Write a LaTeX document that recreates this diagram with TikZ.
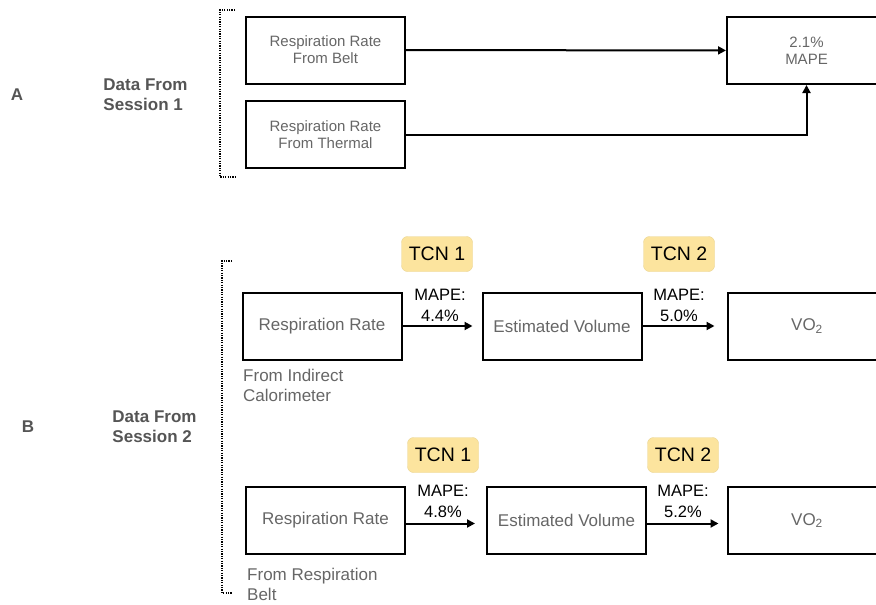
\documentclass[tikz,border=0pt]{standalone}
\usepackage{fontspec}
\setmainfont{Liberation Sans}
\usetikzlibrary{arrows.meta,positioning}

\definecolor{boxtext}{HTML}{666666}
\definecolor{headtext}{HTML}{555555}
\definecolor{tcnfill}{HTML}{FCE49E}
\definecolor{tcnline}{HTML}{E9D38F}

\tikzset{
  stagebox/.style={draw, line width=2pt, text=boxtext, minimum width=159pt,
    minimum height=67pt, align=center, font=\fontsize{17}{20}\selectfont},
  smallbox/.style={stagebox, font=\fontsize{15}{17}\selectfont},
  tcnbadge/.style={draw=tcnline, fill=tcnfill, rounded corners=6pt, minimum width=71pt,
    minimum height=35pt, font=\fontsize{19.5}{20}\selectfont},
  errlabel/.style={align=center, inner sep=0pt, font=\fontsize{16.5}{21}\selectfont},
  srclabel/.style={anchor=north west, align=left, text=boxtext, inner sep=0pt,
    font=\fontsize{17}{20}\selectfont},
  headlabel/.style={align=left, text=headtext, inner sep=0pt,
    font=\bfseries\fontsize{17}{20}\selectfont},
  flow/.style={line width=2pt, -{Triangle[length=8pt,width=8pt]}},
  bracket/.style={line width=2pt, dash pattern=on 1.2pt off 1.2pt}
}

\begin{document}
\begin{tikzpicture}[x=1pt,y=-1pt]
    \useasboundingbox (0,0) rectangle (876,605);
    \clip (0,0) rectangle (876,605);
    % Labels
    \node[headlabel] (labA) at (17,95) {A};
    \node[headlabel] (sesA) at (145.5,94.5) {Data From\\Session 1};
    \node[headlabel] (labB) at (28,427) {B};
    \node[headlabel] (sesB) at (154.5,427) {Data From\\Session 2};
    % Part A
    \node[smallbox] (beltA) at (325.5,50) {Respiration Rate\\From Belt};
    \node[smallbox] (thermA) at (325.5,134.5) {Respiration Rate\\From Thermal};
    \node[smallbox] (mapeA) at (806.5,50.5) {2.1\%\\MAPE};
    \draw[flow] (beltA) -- (mapeA);
    \draw[flow] (thermA.east) -| (mapeA.south);
    \coordinate (brA1) at (235,10);
    \coordinate (brA2) at (235,177);
    \draw[bracket] (brA1) -- ++(-15,0) |- (brA2);
    % Part B, first row
    \node[stagebox] (rr1) at (322,326) {Respiration Rate};
    \node[stagebox] (ev1) at (562,326) {Estimated Volume};
    \node[stagebox] (vo1) at (807,326) {VO\textsubscript{2}};
    \node[tcnbadge] (tcn1a) at (437,254) {TCN 1};
    \node[tcnbadge] (tcn2a) at (679,254) {TCN 2};
    \node[errlabel] (err1a) at (440,305) {MAPE:\\4.4\%};
    \node[errlabel] (err2a) at (679,305) {MAPE:\\5.0\%};
    \draw[flow, shorten >=9pt] (rr1) -- (ev1);
    \draw[flow, shorten >=12pt] (ev1) -- (vo1);
    \node[srclabel] (src1) at (243,369) {From Indirect\\Calorimeter};
    % Part B, second row
    \node[stagebox] (rr2) at (325.5,520.5) {Respiration Rate};
    \node[stagebox] (ev2) at (566.5,520.5) {Estimated Volume};
    \node[stagebox] (vo2) at (807,520.5) {VO\textsubscript{2}};
    \node[tcnbadge] (tcn1b) at (443,455) {TCN 1};
    \node[tcnbadge] (tcn2b) at (683,455) {TCN 2};
    \node[errlabel] (err1b) at (443,501) {MAPE:\\4.8\%};
    \node[errlabel] (err2b) at (683,501) {MAPE:\\5.2\%};
    \draw[flow, shorten >=11pt] ([yshift=-3pt]rr2.east) -- ([yshift=-3pt]ev2.west);
    \draw[flow, shorten >=8pt] ([yshift=-3pt]ev2.east) -- ([yshift=-3pt]vo2.west);
    \node[srclabel] (src2) at (247,568) {From Respiration\\Belt};
    \coordinate (brB1) at (232,261);
    \coordinate (brB2) at (232,593);
    \draw[bracket] (brB1) -- ++(-10,0) |- (brB2);
\end{tikzpicture}
\end{document}
